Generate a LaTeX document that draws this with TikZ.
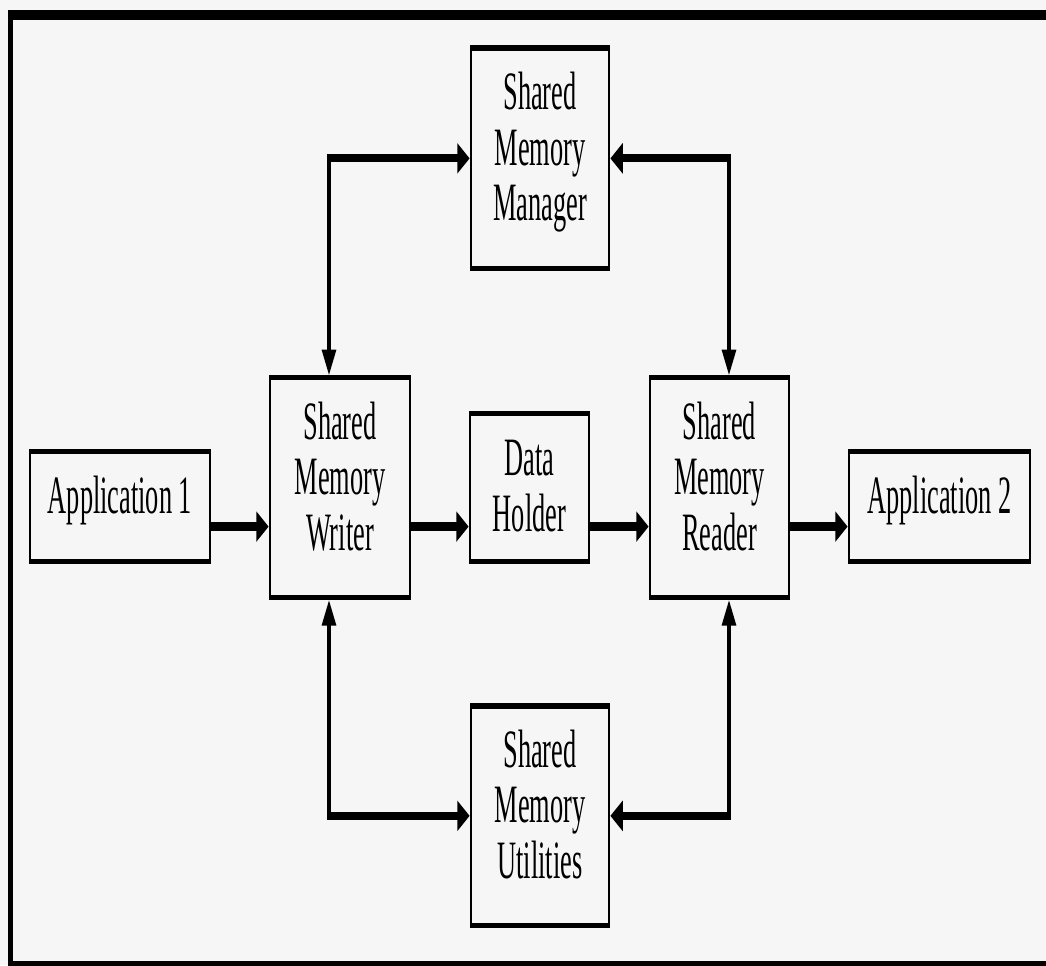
\documentclass[tikz,border=0pt]{standalone}
\usepackage{fontspec}
\setmainfont{Liberation Serif}
\usepackage{tikz}
\usetikzlibrary{arrows.meta}
\usetikzlibrary{positioning}

\definecolor{paper}{HTML}{F6F6F6}
\newcommand{\pw}{0.02cm}
\newcommand{\ph}{0.009756cm}

\tikzset{
	block/.style 2 args={draw, line width=0.05cm, fill=paper, align=center, inner sep=0pt,
		minimum width=#1*\pw, minimum height=#2*\ph, text depth=6.5pt,
		font=\fontsize{15}{15.4}\selectfont},
	link/.style={line width=0.08cm, >={Triangle[length=0.25cm, width=0.28cm]}}
}

\begin{document}
\begin{tikzpicture}[x=0.02cm, y=-0.02cm]
	\useasboundingbox (0,0) rectangle (1046,965);
	\fill[paper] (0,0) rectangle (1046,965);
	\clip (0,0) rectangle (1046,965);
	\begin{scope}[transform canvas={yscale=2.05}, y=-\ph]
		% Frame
		\draw[line width=0.09cm] (10.5,15) rectangle (1052,966);
		
		% Nodes
		\node[block={180}{110}] (app1) at (120,507) {Application 1};
		\node[block={140}{220}] (writer) at (340,488) {Shared\\Memory\\Writer};
		\node[block={119}{148}, text depth=1pt] (holder) at (529.5,488) {Data\\Holder};
		\node[block={139}{220}] (reader) at (719.5,488) {Shared\\Memory\\Reader};
		\node[block={181}{110}] (app2) at (939.5,507) {Application 2};
		\node[block={138}{221}] (manager) at (540,158.5) {Shared\\Memory\\Manager};
		\node[block={138}{220}] (utils) at (540,816.5) {Shared\\Memory\\Utilities};
		
		% Levels
		\coordinate (wl) at (329,0);
		\coordinate (rl) at (729,0);
		\coordinate (lvl) at (0,527);
		
		% Arrows
		\draw[link, <->] (writer.north -| wl) |- (manager.west);
		\draw[link, <->] (reader.north -| rl) |- (manager.east);
		\draw[link, <->] (writer.south -| wl) |- (utils.west);
		\draw[link, <->] (reader.south -| rl) |- (utils.east);
		\draw[link, ->] (app1.east |- lvl) -- (writer.west |- lvl);
		\draw[link, ->] (writer.east |- lvl) -- (holder.west |- lvl);
		\draw[link, ->] (holder.east |- lvl) -- (reader.west |- lvl);
		\draw[link, ->] (reader.east |- lvl) -- (app2.west |- lvl);
	\end{scope}
\end{tikzpicture}
\end{document}
